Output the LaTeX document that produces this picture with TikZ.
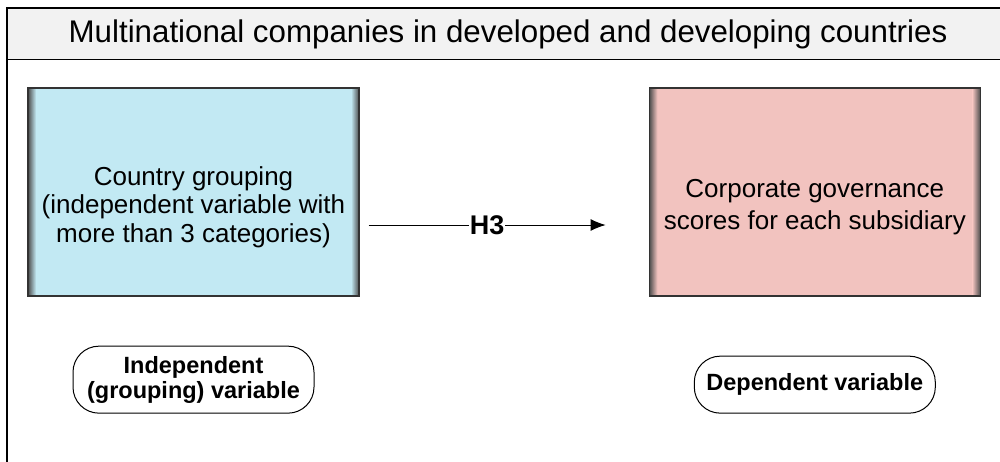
\documentclass[tikz,border=0pt]{standalone}
\usepackage{fontspec}
\setmainfont{Liberation Sans}
\usepackage{xcolor}
\usetikzlibrary{positioning, arrows.meta, calc}

\definecolor{boxblue}{HTML}{C2E9F3}
\definecolor{boxpink}{HTML}{F2C3BF}
\definecolor{bandgray}{HTML}{F2F2F2}

\tikzset{bevelbox/.style = { rectangle
                           , draw = black!80
                           , line width = 1.3pt
                           , fill = #1
                           , minimum width = 331pt
                           , minimum height = 208pt
                           , path picture = {
                               \coordinate (sw) at (path picture bounding box.south west);
                               \coordinate (ne) at (path picture bounding box.north east);
                               \coordinate (nw) at (sw |- ne);
                               \coordinate (se) at (ne |- sw);
                               \shade[left color = black!70, right color = #1]
                                 (sw) -- (nw) -- ($(nw)+(8pt,8pt)$) -- ($(sw)+(8pt,-8pt)$) -- cycle;
                               \shade[top color = #1, bottom color = black!65]
                                 (sw) -- (se) -- ($(se)+(-8pt,-8pt)$) -- ($(sw)+(8pt,-8pt)$) -- cycle;
                               \shade[left color = #1, right color = black!70]
                                 (se) -- (ne) -- ($(ne)+(-8pt,8pt)$) -- ($(se)+(-8pt,-8pt)$) -- cycle;
                               \shade[top color = #1!60!white, bottom color = #1]
                                 (nw) -- (ne) -- ($(ne)+(-8pt,8pt)$) -- ($(nw)+(8pt,8pt)$) -- cycle;
                             } },
        boxtext/.style = { align = center
                         , font = \fontsize{26}{28.5}\selectfont }}

\begin{document}
\begin{tikzpicture}[ x = 1pt, y = -1pt
                     , >={Latex[width=12pt, length=15pt]}
                     , oval/.style = { rectangle
                                     , rounded corners = 26pt
                                     , draw = black
                                     , line width = 1pt
                                     , align = center
                                     , inner sep = 2pt
                                     , minimum width = 241pt
                                     , font = \fontsize{23.5}{25}\selectfont\bfseries }
                     ]

  \useasboundingbox (0,0) rectangle (1000,461);

  % frame and title band
  \draw[line width = 1.3pt] (7,8) rectangle (1010,480);
  \node (title) [ rectangle, draw = black, line width = 1.3pt, fill = bandgray
                , minimum width = 1003pt, minimum height = 51pt, anchor = north west ]
    at (7,8) {};
  \node (titletext) at (508,34) [font = \fontsize{31.3}{34}\selectfont]
    {Multinational companies in developed and developing countries};

  % variables
  \node (grouping) [bevelbox = boxblue] at (193.5,192) {};
  \node (scores) [bevelbox = boxpink, right = 289pt of grouping] {};

  \node (groupingtext) [boxtext] at ([yshift = -15pt]grouping.center)
    {Country grouping\\(independent variable with\\more than 3 categories)};
  \node (scorestext) [boxtext, font = \fontsize{26}{32.5}\selectfont] at ([yshift = -15pt]scores.center)
    {Corporate governance\\scores for each subsidiary};

  \node (indep) [oval, minimum height = 67pt, below = 49pt of grouping]
    {Independent\\(grouping) variable};
  \node (dep) [oval, minimum height = 57pt, below = 59pt of scores]
    {Dependent variable};

  \draw[->, line width = 1pt] ([xshift = 9pt, yshift = -33pt]grouping.east)
    -- node [fill = white, inner sep = 1pt, font = \fontsize{27}{30}\selectfont\bfseries] {H3}
    ([xshift = -43pt, yshift = -33pt]scores.west);

\end{tikzpicture}
\end{document}
